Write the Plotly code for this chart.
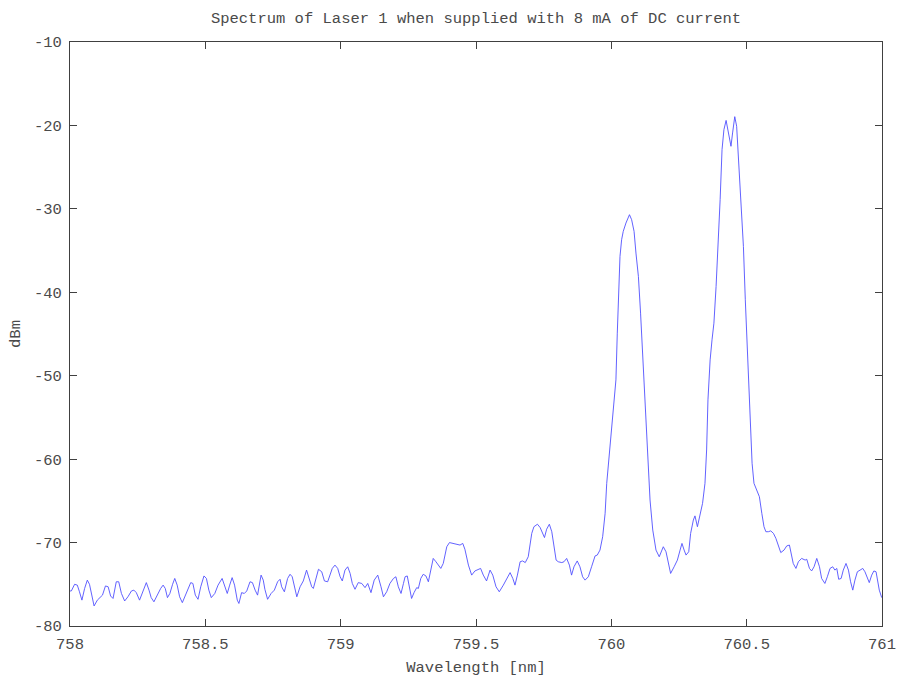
import plotly.graph_objects as go

# Wavelength (nm) and power (dBm)
wavelength_nm = [
    758.000, 758.005, 758.017, 758.027, 758.035, 758.044, 758.054, 758.064, 758.072, 758.079,
    758.089, 758.101, 758.110, 758.120, 758.131, 758.141, 758.150, 758.159, 758.171, 758.180,
    758.190, 758.202, 758.214, 758.227, 758.236, 758.245, 758.257, 758.270, 758.282, 758.292,
    758.300, 758.310, 758.322, 758.335, 758.344, 758.352, 758.360, 758.369, 758.379, 758.387,
    758.396, 758.405, 758.415, 758.426, 758.436, 758.446, 758.454, 758.463, 758.473, 758.483,
    758.495, 758.504, 758.513, 758.522, 758.535, 758.547, 758.562, 758.571, 758.581, 758.590,
    758.599, 758.608, 758.618,
    758.624, 758.634, 758.644, 758.653, 758.665, 758.674, 758.684, 758.693, 758.706, 758.714,
    758.720, 758.730, 758.743, 758.755, 758.767, 758.776, 758.782, 758.792, 758.804, 758.813,
    758.821, 758.831, 758.838, 758.850, 758.862, 758.874, 758.883, 758.893, 758.899, 758.908,
    758.918, 758.930, 758.940, 758.952, 758.961, 758.969, 758.979, 758.989, 758.998, 759.006,
    759.016, 759.026, 759.035, 759.043, 759.053, 759.065, 759.078, 759.090, 759.100, 759.112,
    759.124, 759.137, 759.149, 759.158, 759.170, 759.182, 759.195, 759.204, 759.213, 759.223,
    759.232, 759.238,
    759.246, 759.254, 759.262, 759.271, 759.281, 759.287, 759.296, 759.305, 759.315, 759.324,
    759.333, 759.342, 759.352, 759.361, 759.370, 759.379, 759.392, 759.402, 759.416, 759.431,
    759.441, 759.451, 759.459, 759.472, 759.484, 759.496, 759.509, 759.517, 759.527, 759.539,
    759.552, 759.562, 759.574, 759.586, 759.601, 759.613, 759.626, 759.636, 759.644, 759.653,
    759.663, 759.672, 759.682, 759.693, 759.706, 759.714, 759.727, 759.737, 759.746, 759.753,
    759.761, 759.771, 759.780, 759.788, 759.796, 759.804, 759.817, 759.825, 759.835, 759.845,
    759.853, 759.862, 759.874, 759.884, 759.894, 759.903, 759.915, 759.927, 759.940, 759.948,
    759.958,
    759.968, 759.977, 759.983, 759.993, 760.001, 760.010, 760.017, 760.022, 760.027, 760.032,
    760.038, 760.044, 760.054, 760.067, 760.075, 760.084, 760.091, 760.100, 760.108, 760.118,
    760.126, 760.133, 760.143, 760.153, 760.165, 760.177, 760.192, 760.202, 760.211, 760.219,
    760.232, 760.244, 760.254, 760.261, 760.269, 760.276, 760.286, 760.293, 760.303, 760.309,
    760.318, 760.328, 760.337, 760.346, 760.352, 760.357, 760.365, 760.372, 760.379, 760.387,
    760.394, 760.402, 760.409, 760.416, 760.424, 760.432, 760.442, 760.448, 760.456, 760.463,
    760.471, 760.478, 760.488, 760.495, 760.503, 760.510, 760.515, 760.520, 760.527, 760.537,
    760.547, 760.556, 760.564, 760.571, 760.580, 760.589, 760.599, 760.608, 760.617, 760.626,
    760.638, 760.648, 760.658, 760.666, 760.672, 760.682, 760.691, 760.703, 760.716, 760.722,
    760.732, 760.740, 760.749, 760.759, 760.769, 760.777, 760.789, 760.798, 760.808, 760.818,
    760.826, 760.833, 760.840, 760.849, 760.857, 760.867, 760.876, 760.884, 760.892, 760.900,
    760.909, 760.919, 760.929, 760.937, 760.946, 760.953, 760.962, 760.970, 760.978, 760.983,
    760.990, 760.999,
]

power_dbm = [
    -75.8, -75.8, -75.0, -75.1, -75.9, -76.9, -75.5, -74.5, -75.0, -76.1,
    -77.6, -76.9, -76.6, -76.3, -75.2, -75.3, -76.4, -76.7, -74.7, -74.7,
    -76.1, -77.0, -76.5, -75.8, -75.7, -76.0, -76.9, -75.9, -74.8, -75.7,
    -76.6, -77.1, -76.3, -75.5, -75.1, -75.5, -76.6, -76.1, -75.0, -74.3,
    -75.1, -76.5, -77.2, -76.3, -75.5, -74.8, -74.9, -76.3, -76.8, -75.3,
    -74.0, -74.3, -75.7, -76.6, -76.1, -75.1, -74.3, -75.3, -76.1, -75.1,
    -74.2, -75.1, -76.9,
    -77.3, -76.0, -76.1, -75.8, -74.7, -74.8, -75.7, -76.3, -73.9, -74.5,
    -75.6, -76.8, -76.1, -75.7, -74.7, -74.4, -75.3, -75.9, -74.3, -73.8,
    -74.1, -75.7, -76.5, -75.3, -74.6, -73.3, -74.3, -75.3, -75.5, -74.3,
    -73.2, -73.5, -74.6, -74.7, -73.7, -73.1, -72.7, -73.1, -74.1, -74.6,
    -73.3, -72.9, -73.7, -74.9, -75.6, -74.8, -74.9, -75.4, -74.9, -76.0,
    -74.5, -73.9, -75.3, -76.5, -75.9, -74.9, -74.3, -74.1, -75.3, -76.1,
    -74.9, -74.1,
    -74.0, -75.4, -76.7, -76.0, -75.4, -75.5, -74.3, -73.8, -74.0, -74.7,
    -73.3, -71.9, -72.3, -72.7, -73.1, -72.5, -70.5, -70.0, -70.1, -70.2,
    -70.3, -70.1, -70.8, -72.7, -73.9, -73.4, -73.2, -73.1, -73.9, -74.6,
    -73.3, -73.9, -75.3, -75.9, -75.1, -74.3, -73.6, -74.3, -75.1, -73.9,
    -72.3, -72.2, -72.4, -71.7, -68.9, -68.1, -67.8, -68.2, -68.9, -69.4,
    -68.4, -67.8, -68.7, -70.5, -72.1, -72.3, -72.4, -72.3, -71.9, -72.7,
    -73.9, -72.9, -72.2, -72.9, -74.1, -74.5, -74.1, -72.9, -71.6, -71.5,
    -70.9,
    -69.3, -66.5, -62.9, -59.3, -56.1, -53.7, -50.5, -44.9, -40.5, -35.7,
    -33.7, -32.7, -31.7, -30.7, -31.3, -32.7, -35.3, -38.1, -42.5, -48.9,
    -54.9, -60.1, -64.9, -68.5, -70.9, -71.7, -70.5, -71.1, -72.3, -73.7,
    -72.9, -72.1, -70.9, -70.1, -70.9, -71.5, -71.1, -68.9, -67.3, -66.8,
    -68.1, -66.7, -65.3, -62.9, -58.9, -52.9, -48.1, -45.7, -43.7, -39.3,
    -34.9, -28.9, -22.9, -20.5, -19.4, -20.9, -22.5, -20.9, -18.95, -20.1,
    -24.9, -29.7, -34.5, -40.9, -46.9, -52.9, -57.7, -60.5, -62.9, -63.7,
    -64.5, -66.5, -68.1, -68.7, -68.7, -68.6, -68.9, -69.5, -70.3, -71.2,
    -70.9, -70.4, -70.3, -71.5, -72.5, -73.1, -72.3, -71.9, -72.1, -72.0,
    -73.1, -73.4, -72.9, -71.9, -72.9, -74.3, -74.9, -74.1, -73.1, -72.9,
    -73.3, -73.1, -74.4, -74.3, -73.3, -72.5, -73.3, -74.7, -75.7, -74.5,
    -73.5, -73.3, -73.1, -73.5, -74.3, -74.8, -73.9, -73.4, -73.5, -74.3,
    -75.7, -76.6,
]

x_tick_values = [758, 758.5, 759, 759.5, 760, 760.5, 761]
x_tick_labels = ["758", "758.5", "759", "759.5", "760", "760.5", "761"]
y_tick_values = [-80, -70, -60, -50, -40, -30, -20, -10]
y_tick_labels = ["-80", "-70", "-60", "-50", "-40", "-30", "-20", "-10"]

FONT = "Liberation Mono, Courier New, monospace"
FONT_SIZE = 15.5
AXIS_COLOR = "#404040"
TEXT_COLOR = "#4a4a4a"

fig = go.Figure(
    go.Scatter(
        x=wavelength_nm,
        y=power_dbm,
        mode="lines",
        line=dict(color="rgb(80,80,255)", width=0.9),
        showlegend=False,
    )
)

common_axis = dict(
    showline=True,
    linecolor=AXIS_COLOR,
    linewidth=1,
    mirror="ticks",
    ticks="inside",
    ticklen=7,
    tickwidth=1,
    tickcolor=AXIS_COLOR,
    showgrid=False,
    zeroline=False,
    automargin=False,
    tickfont=dict(family=FONT, size=FONT_SIZE, color=TEXT_COLOR),
)

fig.update_layout(
    width=897,
    height=677,
    autosize=False,
    paper_bgcolor="white",
    plot_bgcolor="white",
    margin=dict(l=70, r=15, t=42, b=51, pad=0),
    title=dict(
        text="Spectrum of Laser 1 when supplied with 8 mA of DC current",
        x=0.5,
        xanchor="center",
        xref="paper",
        y=1 - 18 / 677,
        yanchor="middle",
        yref="container",
        font=dict(family=FONT, size=FONT_SIZE, color=TEXT_COLOR),
    ),
    xaxis=dict(
        range=[758, 761],
        tickvals=x_tick_values,
        ticktext=x_tick_labels,
        title=dict(text="Wavelength [nm]", font=dict(family=FONT, size=FONT_SIZE, color=TEXT_COLOR), standoff=8),
        ticklabelstandoff=3,
        **common_axis,
    ),
    yaxis=dict(
        range=[-80, -10],
        tickvals=y_tick_values,
        ticktext=y_tick_labels,
        title=dict(text="dBm", font=dict(family=FONT, size=FONT_SIZE, color=TEXT_COLOR), standoff=9),
        ticklabelstandoff=4,
        **common_axis,
    ),
)

fig.write_html(
    "out.html",
    config={"responsive": False, "displayModeBar": False},
    post_script="document.body.style.margin='0';document.body.style.padding='0';",
)
